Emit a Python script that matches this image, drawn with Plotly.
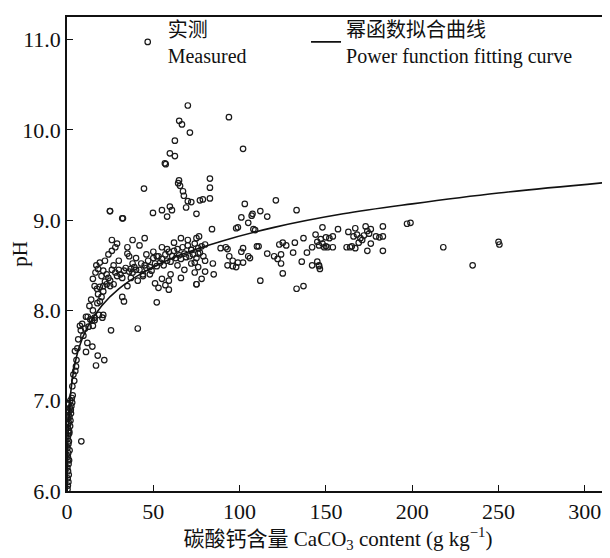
import plotly.graph_objects as go

# ---- measured points: CaCO3 content (g/kg) ----
meas_x = [
    # near-zero column
    0.3,0.5,0.8,0.4,1.0,0.6,0.2,0.9,1.2,0.5,0.7,1.5,0.3,0.8,1.1,0.4,0.6,1.3,0.9,0.5,
    1.8,0.7,1.0,2.0,0.4,1.4,0.8,2.3,1.2,0.6,1.6,2.5,1.0,3.0,1.9,2.8,3.3,1.3,0.7,2.2,8.3,
    # steep rise
    3.1,3.7,4.2,5.2,4.8,4.6,5.5,6.0,7.5,8.0,11.0,11.8,14.7,17.8,21.6,16.8,10.5,12.5,15.0,11.0,
    13.5,16.0,18.5,20.5,8.8,6.5,9.5,41.0,14.5,16.0,21.0,15.0,12.0,25.5,
    # 12-40
    15,16,17.4,19,21,23,25,27,21,20,19,17.6,13,14,18,22,24,17,18,19,
    16.5,26,24,26,28,29,35,36,32,33,35,41,28,30,31,33,34,36,37,38,
    39,40,29,32,26,23,21,20,27,25,22,30,38,40,37,35,24.9,32,38,
    # 40-80 band
    42,43,44,45,46,47,48,49,50,51,52,53,54,55,56,57,58,59,60,61,
    62,63,64,65,66,67,68,69,70,71,72,73,74,75,76,77,78,79,80,
    52,51,53,55,57,59,59,75,48,44,46,50,55,62,66,70,58,64,68,72,
    76,80,42,45,60,74,78,66,52,
    # high outliers
    70,65,66.6,71.2,93.8,102,62.5,59.6,62.5,56.7,57.2,44.6,64.9,64.4,65.5,67.2,67.7,82.8,82.8,82.8,
    70,72,77,59.6,55,60.8,24.9,32.4,49.8,58,69,78.7,75,
    # 70-150
    72,76,74,75,76.5,80,85,75,84.5,89,92,93,94,96,99,101,102,105,106,110,
    111,93,96,98,102,112,116,120,122,124,123,125,127,124,125,133,137,132,131,137,
    139,136,142,144,145,146,147,148,146,142,145,150,150,
    103,121,133,107,107.5,101,112,116,105,98,99,108,109,84,
    # 145-255
    148,152,154,157,149,151,154,146,146.5,163,167,166,168,169,170,171,162,164,165,167,
    172,173,174,175,176,176,174,179,181,183,183,183,197,199,218,235,250,250.5,
]
# ---- measured pH ----
meas_y = [
    6.02,6.06,6.10,6.14,6.18,6.22,6.26,6.30,6.34,6.38,6.42,6.45,6.48,6.52,6.55,6.58,6.61,6.64,6.67,6.70,
    6.72,6.74,6.76,6.78,6.80,6.82,6.84,6.86,6.88,6.90,6.92,6.94,6.96,6.98,7.00,7.03,7.06,6.66,6.35,6.90,6.55,
    7.16,7.29,7.22,7.38,7.33,7.55,7.45,7.58,7.83,7.78,7.54,7.64,7.60,7.50,7.45,7.39,7.80,7.82,7.83,7.93,
    7.90,7.92,7.95,7.92,7.85,7.68,7.72,7.80,7.89,7.89,7.95,8.00,7.93,7.78,
    8.35,8.27,8.24,8.26,8.27,8.29,8.27,8.29,8.21,8.15,8.10,8.08,8.05,8.12,8.18,8.32,8.36,8.50,8.46,8.53,
    8.42,8.78,8.62,8.66,8.70,8.74,8.63,8.60,8.15,8.10,8.27,8.33,8.42,8.45,8.40,8.44,8.47,8.43,8.46,8.42,
    8.48,8.45,8.38,8.36,8.45,8.40,8.44,8.38,8.50,8.33,8.55,8.55,8.52,8.58,8.36,8.70,9.10,9.02,8.78,
    8.45,8.52,8.40,8.50,8.47,8.55,8.48,8.44,8.58,8.52,8.49,8.60,8.53,8.57,8.50,8.62,8.55,8.65,8.54,8.60,
    8.66,8.58,8.68,8.61,8.57,8.70,8.63,8.59,8.72,8.60,8.67,8.62,8.74,8.58,8.69,8.64,8.71,8.60,8.73,
    8.09,8.30,8.25,8.35,8.28,8.23,8.33,8.29,8.40,8.38,8.62,8.65,8.70,8.75,8.80,8.78,8.68,8.50,8.45,8.52,
    8.48,8.55,8.72,8.80,8.40,8.42,8.35,8.36,8.60,
    10.27,10.10,10.06,9.97,10.14,9.79,9.88,9.74,9.71,9.63,9.62,9.35,9.44,9.41,9.38,9.32,9.27,9.46,9.36,9.24,
    9.21,9.20,9.22,9.15,9.11,9.11,9.10,9.02,9.08,9.04,9.14,9.23,9.07,
    8.67,8.63,8.53,8.80,8.82,8.43,8.40,8.29,8.52,8.69,8.70,8.68,8.60,8.55,8.53,8.65,8.69,8.60,8.58,8.71,
    8.71,8.50,8.49,8.48,8.53,8.33,8.63,8.60,8.57,8.62,8.73,8.75,8.72,8.52,8.41,8.24,8.27,8.75,8.64,8.80,
    8.64,8.54,8.70,8.84,8.76,8.72,8.79,8.74,8.50,8.50,8.54,8.81,8.71,
    9.18,9.22,9.11,9.05,9.07,9.03,9.10,9.04,8.97,8.91,8.92,8.90,8.89,8.90,
    8.92,8.80,8.82,8.90,8.70,8.70,8.70,8.49,8.46,8.87,8.91,8.82,8.84,8.75,8.80,8.78,8.70,8.70,8.71,8.69,
    8.83,8.93,8.88,8.85,8.74,8.90,8.66,8.82,8.81,8.82,8.66,8.93,8.96,8.97,8.70,8.50,8.76,8.73,
]

# ---- power function fitting curve ----
fit_x = [0.1, 0.2, 0.5, 1, 2, 4, 7, 12, 20, 30, 45, 65, 90, 120, 160, 200, 250, 314]
fit_y = [5.95, 6.19, 6.53, 6.79, 7.06, 7.35, 7.59, 7.82, 8.05, 8.24, 8.43, 8.61, 8.77,
         8.92, 9.07, 9.18, 9.30, 9.42]

x_ticks = [0, 50, 100, 150, 200, 250, 300]
y_ticks = [6.0, 7.0, 8.0, 9.0, 10.0, 11.0]

FONT = "'Liberation Serif', 'Times New Roman', 'Noto Sans CJK SC', serif"
INK = "#111111"

fig = go.Figure()
fig.add_trace(go.Scatter(
    x=meas_x, y=meas_y, mode="markers", name="实测<br>Measured",
    legend="legend", showlegend=True,
    marker=dict(symbol="circle-open", size=5.5, color="#1a1a1a", line=dict(width=1.2)),
))
fig.add_trace(go.Scatter(
    x=fit_x, y=fit_y, mode="lines", name="幂函数拟合曲线<br>Power function fitting curve",
    legend="legend2", showlegend=True,
    line=dict(color=INK, width=1.6, shape="spline"),
))

axis_common = dict(
    showline=True, linecolor=INK, linewidth=1.5, mirror=True,
    ticks="inside", ticklen=6, tickwidth=1.3, tickcolor=INK,
    showgrid=False, zeroline=False, automargin=False,
    tickfont=dict(family=FONT, size=22, color=INK),
)
fig.update_xaxes(range=[0, 314], tickvals=x_ticks,
                 ticktext=[str(v) for v in x_ticks],
                 title=dict(text="碳酸钙含量 CaCO<sub>3</sub> content (g kg<sup>−1</sup>)",
                            font=dict(family=FONT, size=21, color=INK), standoff=4),
                 **axis_common)
fig.update_yaxes(range=[6.0, 11.25], tickvals=y_ticks,
                 ticktext=[f"{v:.1f}" for v in y_ticks],
                 title=dict(text="pH", font=dict(family=FONT, size=21, color=INK), standoff=4),
                 **axis_common)

leg_common = dict(orientation="h", y=1.016, xanchor="left", yanchor="top",
                  itemwidth=30, bgcolor="rgba(0,0,0,0)", visible=True,
                  font=dict(family=FONT, size=20, color=INK))
fig.update_layout(
    width=602, height=550,
    margin=dict(l=59, r=1, t=1, b=67),
    paper_bgcolor="white", plot_bgcolor="white",
    showlegend=True,
    font=dict(family=FONT, size=20, color=INK),
    legend=dict(x=0.112, **leg_common),
    legend2=dict(x=0.441, **leg_common),
)

fig.write_html("out.html")
